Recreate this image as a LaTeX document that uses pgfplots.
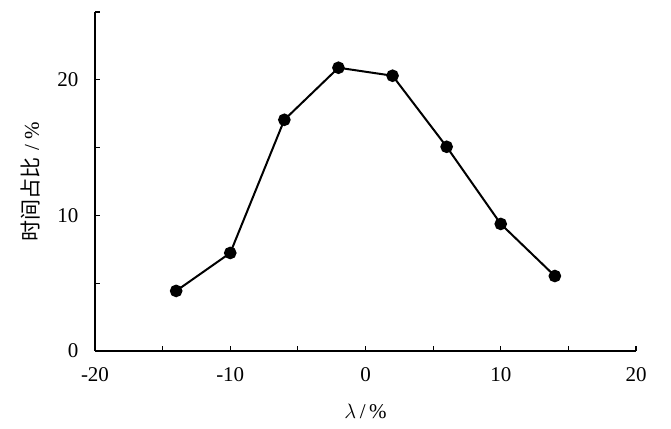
\documentclass[border=0pt]{standalone}
\usepackage{pgfplots}
\pgfplotsset{compat=1.18}
\usepackage{fontspec}
\setmainfont{Liberation Serif}
\newfontfamily\cjk{Noto Sans CJK SC}

\begin{document}
\begin{tikzpicture}
\begin{axis}[
    scale only axis,
    width=541pt, height=339pt,
    xmin=-20, xmax=20, ymin=0, ymax=25,
    axis x line*=bottom, axis y line*=left,
    axis line style={line width=1.2pt},
    xtick={-20,-10,...,20}, minor xtick={-15,-5,5,15},
    ytick={0,10,20}, minor ytick={5,15,25},
    tick align=inside,
    major tick length=5pt, minor tick length=5pt,
    tick style={line width=1.2pt, black},
    /pgf/number format/assume math mode=true,
    ticklabel style={font=\fontsize{21}{24}\selectfont},
    xticklabel style={yshift=-13pt},
    yticklabel style={xshift=-13pt},
    xlabel={\fontsize{21}{24}\selectfont $\lambda$\,/\,\%},
    ylabel={\fontsize{21}{24}\selectfont{\cjk 时间占比}\hspace{7pt}/\hspace{5pt}\%},
    xlabel style={yshift=-16pt},
    ylabel style={yshift=10pt},
]
\addplot[black, line width=2pt, mark=*, mark size=5.3pt]
    coordinates {
    (-14,4.43)(-10,7.23)(-6,17.05)(-2,20.89)(2,20.3)(6,15.06)(10,9.37)(14,5.53) };
\end{axis}
\path (current axis.south west) ++(-95pt,-78pt) (current axis.north east) ++(35pt,12pt);
\end{tikzpicture}
\end{document}
